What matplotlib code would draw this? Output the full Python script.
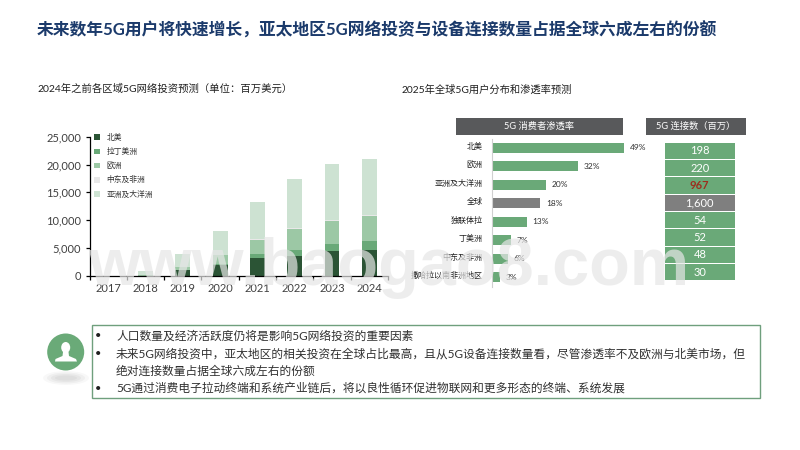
import matplotlib
matplotlib.use("Agg")
import matplotlib.pyplot as plt
from matplotlib.patches import Rectangle, Circle, Ellipse, Polygon

plt.rcParams['font.family'] = ['Lato', 'Noto Sans CJK SC', 'DejaVu Sans']

years = ['2017', '2018', '2019', '2020', '2021', '2022', '2023', '2024']
regions = ['北美', '拉丁美洲', '欧洲', '中东及非洲', '亚洲及大洋洲']
north_america = [0, 50, 1000, 2000, 3200, 3600, 4400, 4700]
latin_america = [0, 30, 150, 200, 800, 1000, 1400, 1500]
europe = [0, 150, 400, 1500, 2500, 3900, 4100, 4600]
mea = [0, 10, 50, 100, 100, 200, 100, 100]
asia_pacific = [0, 660, 2350, 4300, 6700, 8700, 10100, 10100]
stack_series = [north_america, latin_america, europe, mea, asia_pacific]
stack_colors = ['#2b5435', '#69a978', '#9cc8a5', '#e8e8e8', '#cde2d2']

pen_labels = ['北美', '欧洲', '亚洲及大洋洲', '全球', '独联体拉', '丁美洲', '中东及非洲', '撒哈拉以南非洲地区']
penetration = [49, 32, 20, 18, 13, 7, 6, 3]
connections = ['198', '220', '967', '1,600', '54', '52', '48', '30']
GREEN, GREY = '#6aa978', '#7f7f7f'

W, H = 800, 450
fig = plt.figure(figsize=(8, 4.5), dpi=100, facecolor='white')


def axpx(x0, y0, x1, y1, **kw):
    return fig.add_axes([x0 / W, 1 - y1 / H, (x1 - x0) / W, (y1 - y0) / H], **kw)


# ---- stacked bars
ax = axpx(89.5, 136.7, 388, 276)
bottom = [0] * len(years)
handles = []
for name, vals, c in zip(regions, stack_series, stack_colors):
    b = ax.bar(range(len(years)), vals, 0.4, bottom=bottom, color=c, label=name)
    handles.append(b)
    bottom = [p + q for p, q in zip(bottom, vals)]
ax.set_xlim(-0.5, 7.5)
ax.set_ylim(0, 25000)
ax.set_yticks(range(0, 25001, 5000))
ax.set_yticklabels([f'{v:,}' for v in range(0, 25001, 5000)], fontsize=8, color='#404040')
ax.set_xticks(range(len(years)))
ax.set_xticklabels(years, fontsize=8, color='#404040')
ax.tick_params(axis='x', which='major', length=0, pad=5)
ax.set_xticks([i - 0.5 for i in range(len(years) + 1)], minor=True)
ax.tick_params(axis='x', which='minor', length=3, width=0.9, color='black')
ax.tick_params(axis='y', length=3, width=0.9, color='black', pad=3)
for s in ('top', 'right'):
    ax.spines[s].set_visible(False)
for s in ('left', 'bottom'):
    ax.spines[s].set_linewidth(0.9)
ax.legend(handles, regions, loc='upper left', bbox_to_anchor=(0.0, 1.06), frameon=False,
          fontsize=5.6, handlelength=0.75, handleheight=0.75, handletextpad=0.85,
          labelspacing=0.78, borderpad=0.3, borderaxespad=0.3, labelcolor='#303030')

# ---- penetration bars
ax2 = axpx(491.7, 139, 640, 287)
n = len(pen_labels)
pen_colors = [GREY if l == '全球' else GREEN for l in pen_labels]
ax2.barh(range(n), penetration, 0.54, color=pen_colors)
ax2.set_ylim(n - 0.5 + 0.02, -0.5 + 0.02)
ax2.set_xlim(0, 148.3 / 2.705)
ax2.set_xticks([])
ax2.set_yticks([])
for s in ('top', 'right', 'bottom'):
    ax2.spines[s].set_visible(False)
ax2.spines['left'].set_color('#d0d0d0')
ax2.patch.set_alpha(0)
for i, (l, v) in enumerate(zip(pen_labels, penetration)):
    ax2.annotate(l, (0, i), xytext=(-6.5, 1.5), textcoords='offset points', ha='right',
                 va='center', fontsize=5.8, color='#202020')
    ax2.annotate(f'{v}%', (v, i), xytext=(4, 0), textcoords='offset points', ha='left',
                 va='center', fontsize=6, color='#303030')

# ---- connection cells
ax3 = axpx(665, 142, 734.5, 281)
ax3.barh(range(n), [1] * n, 0.93, color=pen_colors)
ax3.set_xlim(0, 1)
ax3.set_ylim(n - 0.5, -0.5)
ax3.axis('off')
for i, t in enumerate(connections):
    big = t == '967'
    ax3.text(0.5, i, t, ha='center', va='center', fontsize=8,
             color='#9c2f1e' if big else 'white', fontweight='bold' if big else 'normal')

# ---- overlay
ov = axpx(0, 0, W, H, zorder=10)
ov.set_xlim(0, W)
ov.set_ylim(H, 0)
ov.axis('off')
ov.patch.set_alpha(0)

ov.text(37, 30, '未来数年5G用户将快速增长，亚太地区5G网络投资与设备连接数量占据全球六成左右的份额',
        fontsize=12.1, fontweight='bold', color='#1b3a6b', va='center', ha='left')
ov.text(37, 89, '2024年之前各区域5G网络投资预测（单位：百万美元）', fontsize=7.45, color='#202020', va='center')
ov.text(402, 90, '2025年全球5G用户分布和渗透率预测', fontsize=7.4, color='#202020', va='center')

for x0, x1, t in [(456, 623, '5G 消费者渗透率'), (646, 746, '5G 连接数（百万）')]:
    ov.add_patch(Rectangle((x0, 118), x1 - x0, 17, fc='#58595b', ec='none'))
    ov.text((x0 + x1) / 2, 126.5, t, color='white', fontsize=6.7, ha='center', va='center')

# note box
ov.add_patch(Rectangle((91.5, 324.5), 668, 73, fc='white', ec='#6f9f7d', lw=1))
lines = [(335.7, True, '人口数量及经济活跃度仍将是影响5G网络投资的重要因素'),
         (353.3, True, '未来5G网络投资中，亚太地区的相关投资在全球占比最高，且从5G设备连接数量看，尽管渗透率不及欧洲与北美市场，但'),
         (371, False, '绝对连接数量占据全球六成左右的份额'),
         (388, True, '5G通过消费电子拉动终端和系统产业链后，将以良性循环促进物联网和更多形态的终端、系统发展')]
for y, bullet, t in lines:
    if bullet:
        ov.text(98, y, '•', fontsize=8, color='#202020', ha='center', va='center')
    ov.text(116, y, t, fontsize=8.45, color='#303030', va='center')

# icon
for w, h, a in [(46, 14, 0.05), (38, 11, 0.07), (30, 8, 0.08), (22, 5, 0.08)]:
    ov.add_patch(Ellipse((66, 378), w, h, fc='#808080', ec='none', alpha=a))
ov.add_patch(Circle((65.7, 352), 18.5, fc='#6aaa78', ec='none'))
ov.add_patch(Ellipse((65.7, 347.5), 9, 11, fc='white', ec='none'))
ov.add_patch(Polygon([(63, 352), (68.5, 352), (69, 356), (76, 359), (77, 361.5), (55, 361.5), (55.5, 359), (62.5, 356)],
                     fc='white', ec='none'))

# watermark
ov.text(389, 285, 'www.baogao8.com', fontsize=48, family='Liberation Sans', fontweight='bold',
        color='#e6e6e6', alpha=0.7, ha='center', va='baseline', zorder=20)

fig.savefig('out.png', dpi=100)
